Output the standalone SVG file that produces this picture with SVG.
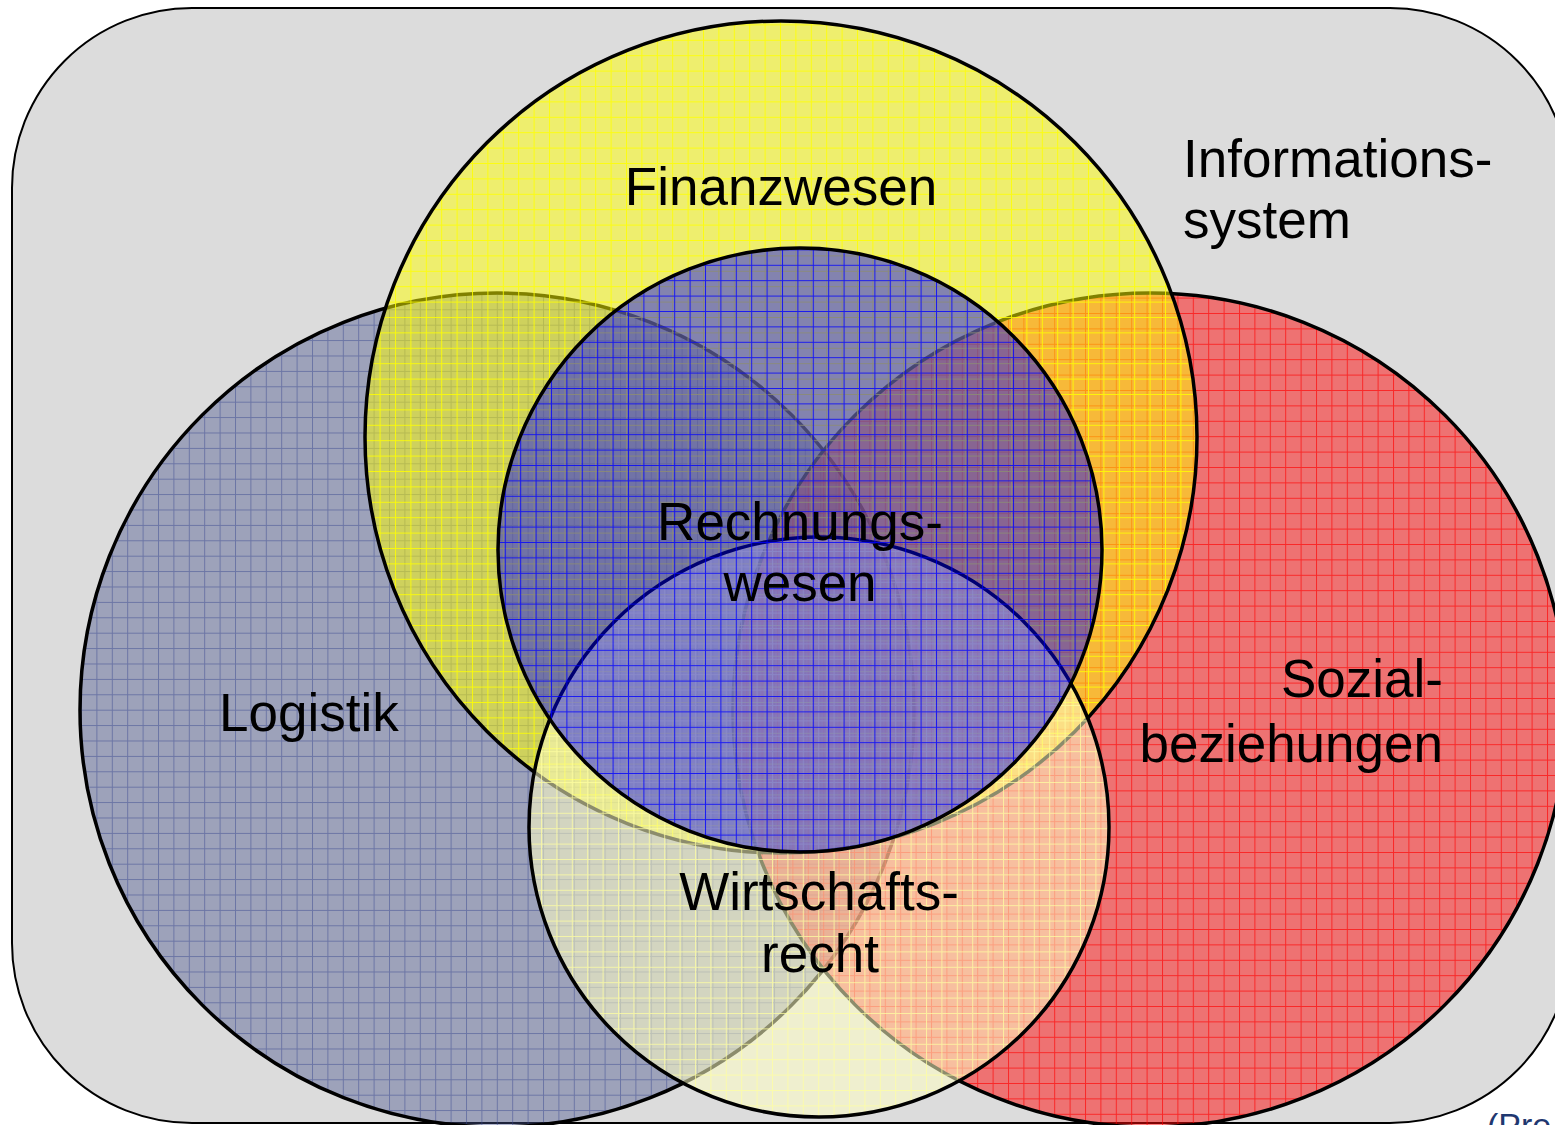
<svg xmlns="http://www.w3.org/2000/svg" width="1555" height="1125" viewBox="0 0 1555 1125">
<style>
.t{font-family:"Liberation Sans",Arial,sans-serif;font-size:53px;fill:#000}
.ring{fill:none;stroke:#000;stroke-width:3.5}
</style>
<defs>
<pattern id="gL" width="15.4" height="15.4" patternUnits="userSpaceOnUse" x="4" y="1.3"><path d="M0 .5H15.4M.5 0V15.4" stroke="#3a4890" stroke-opacity=".5" fill="none"/></pattern>
<pattern id="gS" width="15.4" height="15.4" patternUnits="userSpaceOnUse" x="7" y="5"><path d="M0 .5H15.4M.5 0V15.4" stroke="#ff0000" stroke-opacity=".65" fill="none"/></pattern>
<pattern id="gF" width="15.4" height="15.4" patternUnits="userSpaceOnUse" x="10" y="9"><path d="M0 .5H15.4M.5 0V15.4" stroke="#ffff00" stroke-opacity=".85" fill="none"/></pattern>
<pattern id="gW" width="15.4" height="15.4" patternUnits="userSpaceOnUse" x="2" y="12"><path d="M0 .5H15.4M.5 0V15.4" stroke="#ffffa0" stroke-opacity=".75" fill="none"/></pattern>
<pattern id="gR" width="15.4" height="15.4" patternUnits="userSpaceOnUse" x="12" y="3"><path d="M0 .5H15.4M.5 0V15.4" stroke="#0000ff" stroke-opacity=".8" fill="none"/></pattern>
</defs>
<rect width="1555" height="1125" fill="#fff"/>
<g id="informationssystem">
<rect x="12" y="8" width="1558" height="1115" rx="180" ry="180" fill="#dcdcdc" stroke="#000" stroke-width="2"/>
<text class="t" x="1183" y="177">Informations-</text>
<text class="t" x="1183" y="238">system</text>
</g>
<g id="logistik">
<circle cx="497" cy="710" r="417" fill="#46508a" fill-opacity=".42"/>
<circle cx="497" cy="710" r="417" fill="url(#gL)"/>
<circle class="ring" cx="497" cy="710" r="417"/>
</g>
<g id="sozialbeziehungen">
<circle cx="1150" cy="710" r="417" fill="#ff0808" fill-opacity=".5"/>
<circle cx="1150" cy="710" r="417" fill="url(#gS)"/>
<circle class="ring" cx="1150" cy="710" r="417"/>
</g>
<g id="finanzwesen">
<circle cx="781" cy="437" r="416" fill="#ffff00" fill-opacity=".5"/>
<circle cx="781" cy="437" r="416" fill="url(#gF)"/>
<circle class="ring" cx="781" cy="437" r="416"/>
</g>
<g id="wirtschaftsrecht">
<circle cx="819" cy="827" r="290" fill="#ffffc4" fill-opacity=".55"/>
<circle cx="819" cy="827" r="290" fill="url(#gW)"/>
<circle class="ring" cx="819" cy="827" r="290"/>
</g>
<g id="rechnungswesen">
<circle cx="800" cy="550" r="302" fill="#0000ff" fill-opacity=".45"/>
<circle cx="800" cy="550" r="302" fill="url(#gR)"/>
<circle class="ring" cx="800" cy="550" r="302"/>
</g>
<g id="labels">
<text class="t" x="781" y="205" text-anchor="middle">Finanzwesen</text>
<text class="t" x="800" y="540" text-anchor="middle">Rechnungs-</text>
<text class="t" x="800" y="601" text-anchor="middle">wesen</text>
<text class="t" x="219" y="731">Logistik</text>
<text class="t" x="1443" y="697" text-anchor="end">Sozial-</text>
<text class="t" x="1443" y="762" text-anchor="end">beziehungen</text>
<text class="t" x="819" y="910" text-anchor="middle">Wirtschafts-</text>
<text class="t" x="820" y="972" text-anchor="middle">recht</text>
</g>
<text x="1487" y="1137" font-family="Liberation Sans, Arial, sans-serif" font-size="34" fill="#1f3870">(Pre</text>
</svg>
